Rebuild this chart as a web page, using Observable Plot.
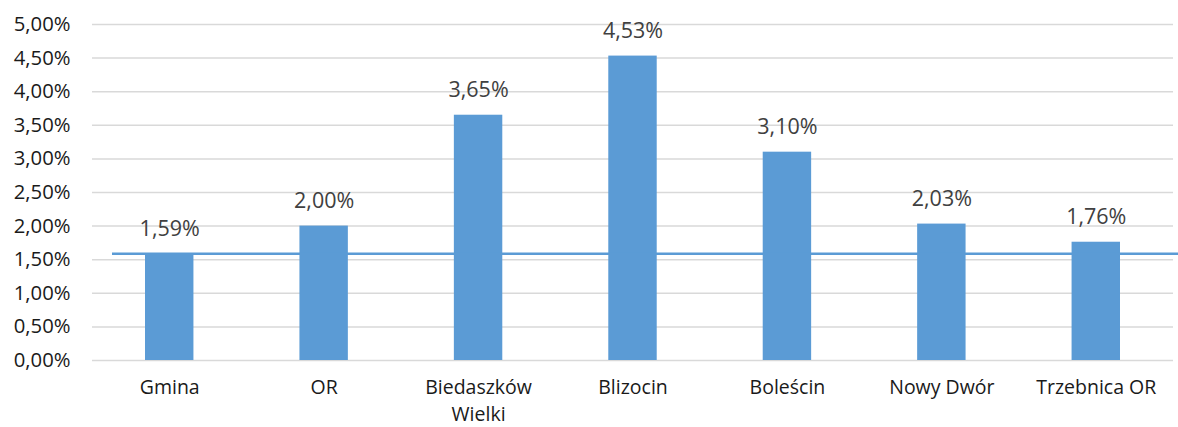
<!DOCTYPE html>
<html>
<head>
<meta charset="utf-8">
<script src="https://cdn.jsdelivr.net/npm/d3@7"></script>
<script src="https://cdn.jsdelivr.net/npm/@observablehq/plot@0.6"></script>
<style>
  html, body { margin: 0; padding: 0; background: #fff; }
  svg { display: block; }
</style>
</head>
<body>
<div id="chart"></div>
<script>
const categories = ["Gmina", "OR", "Biedaszków Wielki", "Blizocin", "Boleścin", "Nowy Dwór", "Trzebnica OR"];
const tickLabels = ["Gmina", "OR", "Biedaszków\nWielki", "Blizocin", "Boleścin", "Nowy Dwór", "Trzebnica OR"];
const values = [0.0159, 0.0200, 0.0365, 0.0453, 0.0310, 0.0203, 0.0176];
const referenceValue = [0.0159];
const yTicks = [0, 0.005, 0.01, 0.015, 0.02, 0.025, 0.03, 0.035, 0.04, 0.045, 0.05];

const data = categories.map((c, i) => ({name: c, value: values[i]}));
const pl = d3.formatLocale({decimal: ",", thousands: "\u00a0", grouping: [3], currency: ["", " zł"]});
const fmt = pl.format(".2%");
const labelMap = new Map(categories.map((c, i) => [c, tickLabels[i]]));

const font = "'Open Sans', sans-serif";
const blue = "#5B9BD5";

const chart = Plot.plot({
  width: 1178,
  height: 427,
  marginLeft: 92,
  marginRight: 5,
  marginTop: 24,
  marginBottom: 67,
  style: {fontFamily: font, fontSize: "20px", background: "#fff"},
  x: {domain: categories, padding: 0, round: false, label: null},
  y: {domain: [0, 0.05], label: null},
  marks: [
    Plot.gridY(yTicks, {stroke: "#d9d9d9", strokeOpacity: 1, strokeWidth: 1.5}),
    Plot.barY(data, {x: "name", y: "value", fill: blue, insetLeft: 53, insetRight: 53}),
    Plot.ruleY(referenceValue, {stroke: blue, strokeWidth: 2.5, insetLeft: 20, insetRight: -5}),
    Plot.text(data, {x: "name", y: "value", text: d => fmt(d.value), dy: -25, fill: "#404040", fontSize: 21.5}),
    Plot.axisY(yTicks, {tickSize: 0, tickPadding: 22, tickFormat: fmt, fontSize: 20.3, fill: "#1a1a1a", label: null}),
    Plot.axisX({tickSize: 0, tickPadding: 14, tickFormat: d => labelMap.get(d), fontSize: 19.5, fill: "#1a1a1a", lineHeight: 1.38, label: null})
  ]
});
document.getElementById("chart").appendChild(chart);
</script>
</body>
</html>
